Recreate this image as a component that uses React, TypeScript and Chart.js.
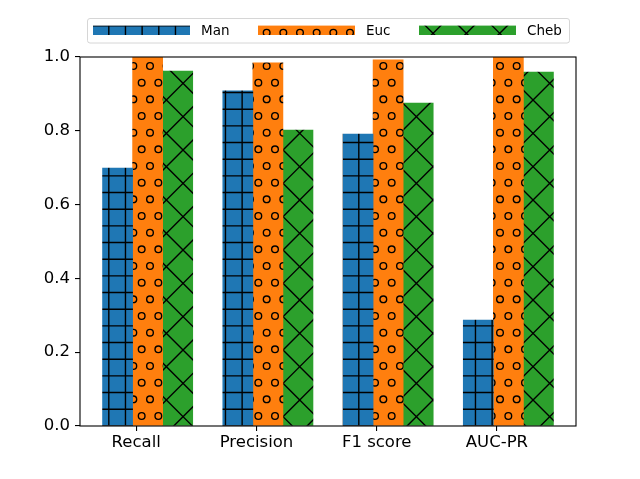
import React, { useEffect, useRef } from "react";
import { Chart, registerables } from "chart.js";

Chart.register(...registerables);

const categories = ["Recall", "Precision", "F1 score", "AUC-PR"];
const seriesNames = ["Man", "Euc", "Cheb"];
const manValues = [0.699, 0.908, 0.791, 0.287];
const eucValues = [1.0, 0.984, 0.992, 1.0];
const chebValues = [0.962, 0.802, 0.875, 0.959];
const yTickValues = [0, 0.2, 0.4, 0.6, 0.8, 1.0];

const seriesValues = [manValues, eucValues, chebValues];
const COLORS = ["#1f77b4", "#ff7f0e", "#2ca02c"];
const HATCHES = ["grid", "circles", "cross"];
const FONT = "DejaVu Sans";
const S = 100 / 6;
const BAR_W = 0.25;
const TICK_OFFSET = 0.155;

function makePattern(ctx: CanvasRenderingContext2D, color: string, kind: string) {
  const c = document.createElement("canvas");
  c.width = 100;
  c.height = 100;
  const g = c.getContext("2d")!;
  g.fillStyle = color;
  g.fillRect(0, 0, 100, 100);
  g.strokeStyle = "#000";
  g.lineWidth = 1.39;
  if (kind === "grid") {
    g.beginPath();
    for (let k = -1; k <= 7; k++) {
      const x = 8.8 + k * S;
      g.moveTo(x, -5);
      g.lineTo(x, 105);
      const y = 9.2 + k * S;
      g.moveTo(-5, y);
      g.lineTo(105, y);
    }
    g.stroke();
  } else if (kind === "circles") {
    for (let k = -1; k <= 7; k++) {
      const y = -0.67 + k * S;
      const off = ((k % 2) + 2) % 2 === 0 ? 0 : S / 2;
      for (let j = -1; j <= 7; j++) {
        const x = off + j * S;
        g.beginPath();
        g.arc(x, y, 3.33, 0, Math.PI * 2);
        g.stroke();
      }
    }
  } else {
    const P = 100 / 3;
    g.beginPath();
    for (let k = -6; k <= 9; k++) {
      const c0 = -0.3 + k * P;
      g.moveTo(c0 + 10, -10);
      g.lineTo(c0 - 110, 110);
      g.moveTo(c0 - 10, -10);
      g.lineTo(c0 + 110, 110);
    }
    g.stroke();
  }
  return ctx.createPattern(c, "repeat")!;
}

export default function App() {
  const ref = useRef<HTMLCanvasElement | null>(null);

  useEffect(() => {
    const canvas = ref.current!;
    const ctx = canvas.getContext("2d")!;
    const patterns = COLORS.map((col, i) => makePattern(ctx, col, HATCHES[i]));

    const framePlugin = {
      id: "frame",
      beforeDraw(chart: any) {
        const c = chart.ctx;
        c.save();
        c.fillStyle = "#fff";
        c.fillRect(0, 0, chart.width, chart.height);
        c.restore();
      },
      afterDatasetsDraw(chart: any) {
        const { left, top, right, bottom } = chart.chartArea;
        const c = chart.ctx;
        c.save();
        c.strokeStyle = "#000";
        c.lineWidth = 1.1;
        c.strokeRect(left, top, right - left, bottom - top);
        c.restore();
      },
      afterDraw(chart: any) {
        const c = chart.ctx;
        c.save();
        const fx = 87.5, fy = 18.5, fw = 482, fh = 24.5, r = 2.5;
        c.beginPath();
        c.moveTo(fx + r, fy);
        c.lineTo(fx + fw - r, fy);
        c.quadraticCurveTo(fx + fw, fy, fx + fw, fy + r);
        c.lineTo(fx + fw, fy + fh - r);
        c.quadraticCurveTo(fx + fw, fy + fh, fx + fw - r, fy + fh);
        c.lineTo(fx + r, fy + fh);
        c.quadraticCurveTo(fx, fy + fh, fx, fy + fh - r);
        c.lineTo(fx, fy + r);
        c.quadraticCurveTo(fx, fy, fx + r, fy);
        c.closePath();
        c.fillStyle = "rgba(255,255,255,0.8)";
        c.fill();
        c.strokeStyle = "#d6d6d6";
        c.lineWidth = 1;
        c.stroke();
        const handleX = [93, 258, 419];
        const textX = [201, 366, 527];
        seriesNames.forEach((name, i) => {
          c.fillStyle = patterns[i];
          c.fillRect(handleX[i], 25.6, 97, 9.4);
          c.fillStyle = "#000";
          c.font = `13.5px "${FONT}"`;
          c.textAlign = "left";
          c.textBaseline = "alphabetic";
          c.fillText(name, textX[i], 34.8);
        });
        c.restore();
      },
    };

    const chart = new Chart(canvas, {
      type: "bar",
      data: {
        datasets: seriesNames.map((name, d) => ({
          label: name,
          data: categories.map((_, i) => ({ x: i + d * BAR_W, y: seriesValues[d][i] })),
          backgroundColor: patterns[d],
          borderWidth: 0,
          grouped: false,
          barThickness: 30.06,
        })) as any,
      },
      options: {
        responsive: false,
        animation: false,
        devicePixelRatio: 1,
        layout: { padding: { top: 57, right: 64, left: 0, bottom: 0 } },
        plugins: { legend: { display: false }, tooltip: { enabled: false } },
        scales: {
          x: {
            type: "linear",
            offset: false,
            min: -0.3125,
            max: 3.8125,
            afterBuildTicks: (axis: any) => {
              axis.ticks = categories.map((_, i) => ({ value: i + TICK_OFFSET }));
            },
            afterFit: (axis: any) => {
              axis.height = 53;
            },
            ticks: {
              callback: (_v: any, idx: number) => categories[idx],
              font: { family: FONT, size: 16.5 },
              color: "#000",
              padding: 2,
              maxRotation: 0,
              autoSkip: false,
            },
            grid: { offset: false, drawOnChartArea: false, drawTicks: true, tickLength: 5, color: "#000", lineWidth: 1.1 },
            border: { display: false },
          },
          y: {
            type: "linear",
            min: 0,
            max: 1,
            afterBuildTicks: (axis: any) => {
              axis.ticks = yTickValues.map((v) => ({ value: v }));
            },
            afterFit: (axis: any) => {
              axis.width = 80;
            },
            ticks: {
              callback: (v: any) => Number(v).toFixed(1),
              font: { family: FONT, size: 16.5 },
              color: "#000",
              padding: 5,
            },
            grid: { drawOnChartArea: false, drawTicks: true, tickLength: 5, color: "#000", lineWidth: 1.1 },
            border: { display: false },
          },
        },
      } as any,
      plugins: [framePlugin],
    });
    return () => chart.destroy();
  }, []);

  return (
    <div style={{ position: "fixed", left: 0, top: 0, width: 640, height: 479 }}>
      <canvas ref={ref} width={640} height={479} style={{ display: "block" }} />
    </div>
  );
}
